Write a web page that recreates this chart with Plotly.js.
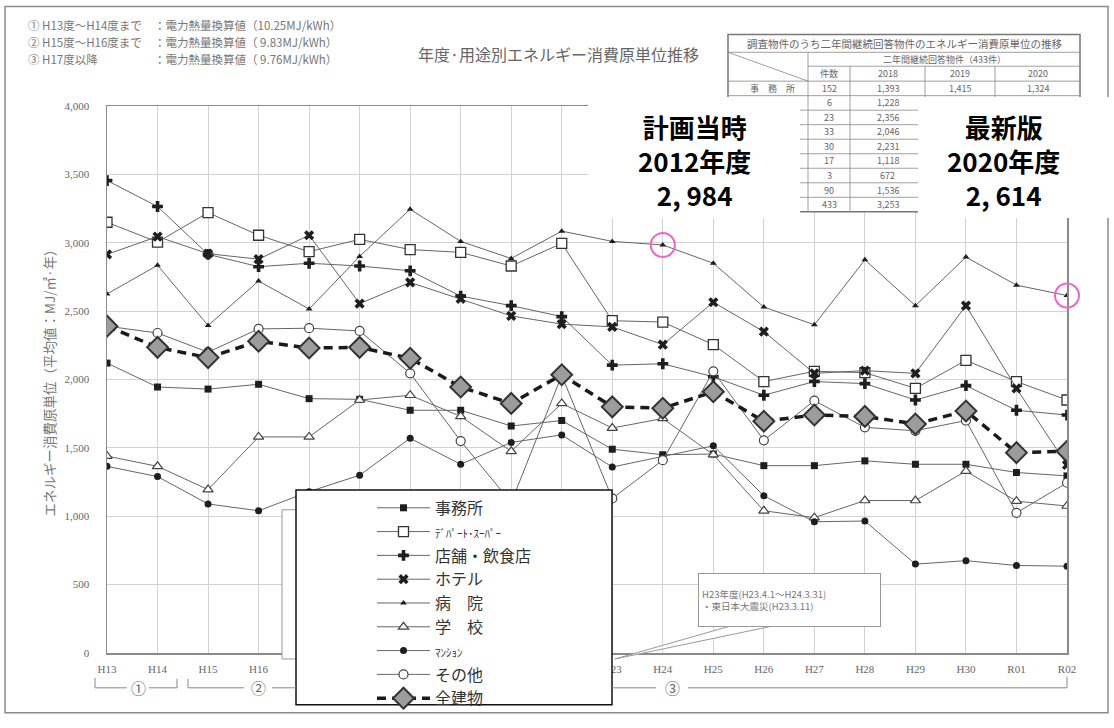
<!DOCTYPE html>
<html>
<head>
<meta charset="utf-8">
<script src="https://cdn.plot.ly/plotly-3.0.1.min.js"></script>
<style>
  html, body { margin: 0; padding: 0; background: #fff; }
  #chart { width: 1114px; height: 728px; }
</style>
</head>
<body>
<div id="chart"></div>
<script>
// Fiscal years on the horizontal axis
const years = ['H13','H14','H15','H16','H17','H18','H19','H20','H21','H22',
               'H23','H24','H25','H26','H27','H28','H29','H30','R01','R02'];

// Energy consumption per floor area by building use (MJ/m2·year)
const office   = [2120,1945,1930,1965,1860,1855,1775,1775,1660,1700,1490,1450,1455,1370,1370,1405,1380,1380,1320,1295];
const dept     = [3150,3005,3220,3055,2935,3025,2950,2930,2830,2995,2430,2420,2255,1985,2060,2050,1935,2140,1985,1850];
const store    = [3455,3265,2915,2825,2850,2830,2795,2610,2540,2460,2105,2115,2020,1885,1985,1970,1850,1955,1775,1740];
const hotel    = [2915,3045,2920,2880,3055,2555,2710,2590,2465,2405,2385,2255,2565,2350,2045,2065,2045,2540,1935,1375];
const hospital = [2625,2835,2395,2720,2515,2900,3245,3010,2885,3085,3010,2984,2850,2530,2400,2875,2540,2895,2690,2614];
const school   = [1440,1365,1195,1580,1580,1850,1885,1730,1475,1825,1645,1715,1450,1040, 990,1115,1115,1330,1110,1075];
const mansion  = [1365,1290,1090,1040,1180,1300,1570,1380,1540,1595,1360,1440,1515,1150, 960, 965, 650, 675, 640, 635];
const other    = [2390,2340,2200,2370,2375,2355,2045,1550,1100,2030,1130,1410,2060,1555,1845,1650,1625,1700,1025,1245];
const total    = [2390,2235,2160,2280,2230,2235,2155,1945,1825,2035,1800,1790,1910,1695,1740,1730,1675,1770,1465,1475];

// Series names as shown in the legend
const names = ['事務所',
               '<span style="font-size:11px">ﾃﾞﾊﾟｰﾄ･ｽｰﾊﾟｰ</span>',
               '店舗・飲食店', 'ホテル', '病　院', '学　校',
               '<span style="font-size:11px">ﾏﾝｼｮﾝ</span>',
               'その他', '全建物'];

// Highlighted points: planning-time year and latest year (hospital series)
const planYear = 'H24', planLabel = ['計画当時', '2012年度', '2, 984'];
const lastYear = 'R02', lastLabel = ['最新版', '2020年度', '2, 614'];

// Electricity conversion notes
const noteLeft  = ['① H13度～H14度まで', '② H15度～H16度まで', '③ H17度以降'];
const noteRight = ['：電力熱量換算値（10.25MJ/kWh）', '：電力熱量換算値（ 9.83MJ/kWh）', '：電力熱量換算値（ 9.76MJ/kWh）'];

// Inset table (visible part)
const tblTitle  = '調査物件のうち二年間継続回答物件のエネルギー消費原単位の推移';
const tblSub    = '二年間継続回答物件（433件）';
const tblHead   = ['件数', '2018', '2019', '2020'];
const tblRows   = ['事　務　所', 'ﾃﾞﾊﾟｰﾄ･ｽｰﾊﾟｰ', '店舗・飲食店', 'ホ　テ　ル', '病　　院', '学　　校', 'ﾏﾝｼｮﾝ', 'そ　の　他', '全　物　件'];
const tblCount  = ['152', '6', '23', '33', '30', '17', '3', '90', '433'];
const tblFirst  = ['1,393', '1,228', '2,356', '2,046', '2,231', '1,118', '672', '1,536', '3,253'];
const tblOffice = ['1,415', '1,324'];

// ---------- page geometry (pixels) ----------
const L = 107, T = 106, PW = 960, PH = 550;
const fx = p => (p - L) / PW;
const fy = p => (T + PH - p) / PH;
const path = segs => segs.map(s => 'M' + s.map(([a, b]) => fx(a).toFixed(5) + ',' + fy(b).toFixed(5)).join(' L')).join(' ');
const Y_MAX = 4000;

const ink = '#1e1e1e';
const thin = '#666';

function series(y, i, marker, line) {
  return {
    x: years, y: y, name: names[i], type: 'scatter', mode: 'lines+markers',
    line: Object.assign({color: thin, width: 1}, line || {}),
    marker: marker, hoverinfo: 'skip'
  };
}

const data = [
  series(office,   0, {symbol: 'square', size: 7, color: ink}),
  series(dept,     1, {symbol: 'square', size: 10, color: '#fff', line: {color: '#333', width: 1.3}}),
  series(store,    2, {symbol: 'cross', size: 9, color: ink}),
  series(hotel,    3, {symbol: 'x', size: 9, color: ink}),
  series(hospital, 4, {symbol: 'triangle-up', size: 6, color: ink}),
  series(school,   5, {symbol: 'triangle-up', size: 9, color: '#fff', line: {color: '#444', width: 1.2}}),
  series(mansion,  6, {symbol: 'circle', size: 7, color: ink}),
  series(other,    7, {symbol: 'circle', size: 9, color: '#fff', line: {color: '#444', width: 1.2}}),
  series(total,    8, {symbol: 'diamond', size: 16, color: '#9c9c9c', line: {color: '#333', width: 2}},
         {color: '#1a1a1a', width: 3.5, dash: '9px,6px'})
];

const jp = '"Noto Sans CJK JP", "Noto Sans", sans-serif';
const shapes = [];
const annotations = [];

// outer frame
shapes.push({type: 'rect', xref: 'paper', yref: 'paper', x0: fx(5), x1: fx(1108), y0: fy(6), y1: fy(716),
             line: {color: '#8a8a8a', width: 1.5}, fillcolor: 'rgba(0,0,0,0)', layer: 'below'});

// inset table: background and rules
const tX = [728, 808, 850, 925, 995, 1080];
const tY = [34, 52, 66, 81];
for (let r = 1; r <= 9; r++) tY.push(81 + r * 14.6);
shapes.push({type: 'rect', xref: 'paper', yref: 'paper', x0: fx(tX[0]), x1: fx(tX[5]), y0: fy(tY[0]), y1: fy(tY[tY.length - 1]),
             line: {color: '#777', width: 1.5}, fillcolor: '#fff', layer: 'above'});
const rules = [];
tY.slice(1, -1).forEach((y, k) => rules.push([[k === 1 ? tX[1] : tX[0], y], [tX[5], y]]));
rules.push([[tX[1], tY[1]], [tX[1], tY[tY.length - 1]]]);
[2, 3, 4].forEach(c => rules.push([[tX[c], tY[2]], [tX[c], tY[tY.length - 1]]]));
rules.push([[tX[0], tY[1]], [tX[1], tY[3]]]);
shapes.push({type: 'path', xref: 'paper', yref: 'paper', path: path(rules), line: {color: '#888', width: 0.8}, layer: 'above'});

function txt(x, y, text, size, color, anchor, extra) {
  annotations.push(Object.assign({xref: 'paper', yref: 'paper', x: fx(x), y: fy(y), text: text, showarrow: false,
    xanchor: anchor || 'center', yanchor: 'middle', font: {family: jp, size: size, color: color}}, extra || {}));
}

txt((tX[0] + tX[5]) / 2, (tY[0] + tY[1]) / 2, tblTitle, 10.5, '#666');
txt((tX[1] + tX[5]) / 2, (tY[1] + tY[2]) / 2, tblSub, 9, '#666');
tblHead.forEach((h, c) => txt((tX[c + 1] + tX[c + 2]) / 2, (tY[2] + tY[3]) / 2, h, 9, '#666'));
tblRows.forEach((lab, r) => {
  const yc = (tY[3 + r] + tY[4 + r]) / 2;
  txt((tX[0] + tX[1]) / 2 + 4, yc, lab, 9, '#666');
  txt((tX[1] + tX[2]) / 2, yc, tblCount[r], 9, '#666');
  txt((tX[2] + tX[3]) / 2, yc, tblFirst[r], 9, '#666');
  if (r === 0) tblOffice.forEach((v, c) => txt((tX[3 + c] + tX[4 + c]) / 2, yc, v, 9, '#666'));
});

// white callout boxes with the highlighted values
function panel(x0, x1, y0, y1, cx, lines) {
  annotations.push({xref: 'paper', yref: 'paper', x: fx((x0 + x1) / 2), y: fy((y0 + y1) / 2), text: ' ',
    showarrow: false, xanchor: 'center', yanchor: 'middle', width: x1 - x0, height: y1 - y0,
    bgcolor: '#fff', borderpad: 0, borderwidth: 0});
  txt(cx, (y0 + y1) / 2 + 3, lines.join('<br>'), 26, '#000', 'center', {font: {family: jp, size: 26, color: '#000', weight: 700}});
}
panel(588, 800, 97, 218, 694, planLabel);
panel(918, 1114, 97, 218, 1003, lastLabel);

// notes and chart title
noteLeft.forEach((t, k) => {
  txt(26, 25 + k * 17, t, 11.5, '#777', 'left');
  txt(152, 25 + k * 17, noteRight[k], 11.5, '#777', 'left');
});
txt(558, 54, '年度·用途別エネルギー消費原単位推移', 16, '#666');

// box behind the legend, and the legend frame
shapes.push({type: 'rect', xref: 'paper', yref: 'paper', x0: fx(282), x1: fx(420), y0: fy(512), y1: fy(662),
             line: {color: '#999', width: 1}, fillcolor: '#fff', layer: 'above'});
shapes.push({type: 'rect', xref: 'paper', yref: 'paper', x0: fx(296), x1: fx(612), y0: fy(492), y1: fy(708),
             line: {color: '#111', width: 1.5}, fillcolor: '#fff', layer: 'above'});

// remark box for the year of the earthquake, with its pointer
shapes.push({type: 'path', xref: 'paper', yref: 'paper', path: path([[[730, 629], [615, 662], [772, 629]]]),
             line: {color: '#999', width: 1}, fillcolor: '#fff', layer: 'above'});
annotations.push({xref: 'paper', yref: 'paper', x: fx(698), y: fy(576), xanchor: 'left', yanchor: 'top',
  text: 'H23年度(H23.4.1～H24.3.31)<br>・東日本大震災(H23.3.11)', align: 'left', showarrow: false,
  width: 175, height: 46, borderpad: 3, bordercolor: '#999', borderwidth: 1, bgcolor: '#fff',
  font: {family: jp, size: 9.5, color: '#777'}});

// period brackets below the axis
const by = 691;
shapes.push({type: 'path', xref: 'paper', yref: 'paper', layer: 'above', line: {color: '#888', width: 1},
  path: path([
    [[95, 681], [95, by], [127, by]], [[149, by], [177, by], [177, 682]],
    [[188, 682], [188, by], [244, by]], [[272, by], [296, by]],
    [[612, by], [656, by]], [[688, by], [1067, by], [1067, 680]]
  ])});
txt(138, by, '①', 15, '#666');
txt(258, by, '②', 15, '#666');
txt(672, by, '③', 15, '#666');

// pink rings around the two highlighted hospital values (placed from the data, not clipped by the plot area)
[planYear, lastYear].forEach(yr => {
  const i = years.indexOf(yr);
  shapes.push({type: 'circle', xref: 'paper', yref: 'paper', xsizemode: 'pixel', ysizemode: 'pixel',
    xanchor: i / (years.length - 1), yanchor: hospital[i] / Y_MAX, x0: -12, x1: 12, y0: -12, y1: 12,
    line: {color: '#f064c8', width: 2}, fillcolor: 'rgba(0,0,0,0)', layer: 'above'});
});

const layout = {
  width: 1114, height: 728,
  margin: {l: L, r: 1114 - L - PW, t: T, b: 728 - T - PH, pad: 0},
  paper_bgcolor: '#fff', plot_bgcolor: '#fff',
  showlegend: true,
  legend: {x: fx(372), xanchor: 'left', y: fy(493), yanchor: 'top', itemwidth: 53,
           bgcolor: 'rgba(0,0,0,0)', borderwidth: 0, tracegroupgap: 0,
           font: {family: jp, size: 16, color: '#333'}},
  xaxis: {type: 'category', range: [0, years.length - 1], showgrid: true, gridcolor: '#d2d2d2', gridwidth: 1,
          showline: true, mirror: true, linecolor: '#8a8a8a', linewidth: 1.5, ticks: '', zeroline: false,
          ticklabelstandoff: 5,
          tickfont: {family: '"Liberation Serif", serif', size: 11, color: '#666'}, fixedrange: true},
  yaxis: {range: [0, Y_MAX], dtick: 500, tickformat: ',', showgrid: true, gridcolor: '#d2d2d2', gridwidth: 1,
          showline: true, mirror: true, linecolor: '#8a8a8a', linewidth: 1.5, ticks: '', zeroline: false,
          ticklabelstandoff: 14,
          tickfont: {family: '"Liberation Serif", serif', size: 11, color: '#666'},
          title: {text: 'エネルギー消費原単位（平均値：MJ/㎡·年）', standoff: 6,
                  font: {family: jp, size: 13.5, color: '#777'}}, fixedrange: true},
  shapes: shapes,
  annotations: annotations
};

Plotly.newPlot('chart', data, layout, {staticPlot: true, displayModeBar: false});
</script>
</body>
</html>
